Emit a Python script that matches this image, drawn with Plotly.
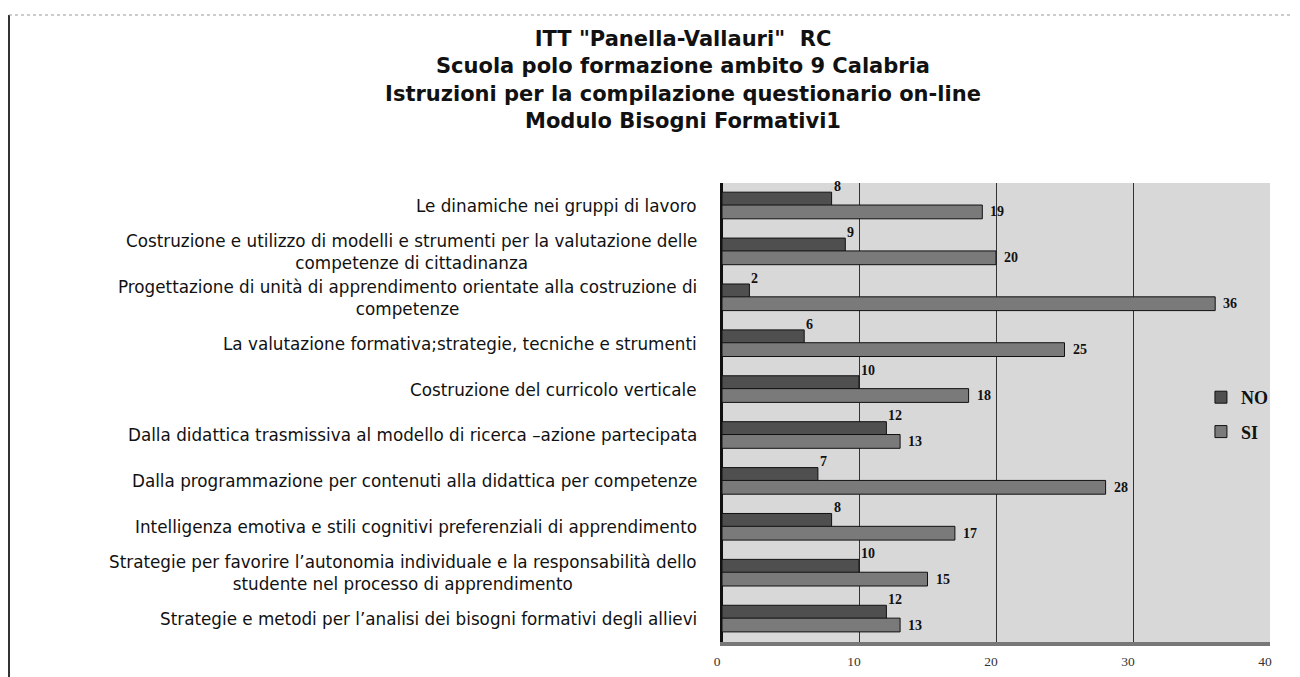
import plotly.graph_objects as go

# ---------------- data ----------------
categories = [
    "Le dinamiche nei gruppi di lavoro",
    "Costruzione e utilizzo di modelli e strumenti per la valutazione delle<br>competenze di cittadinanza",
    "Progettazione di unità di apprendimento orientate alla costruzione di<br>competenze",
    "La valutazione formativa;strategie, tecniche e strumenti",
    "Costruzione del curricolo verticale",
    "Dalla didattica trasmissiva al modello di ricerca –azione partecipata",
    "Dalla programmazione per contenuti alla didattica per competenze",
    "Intelligenza emotiva e stili cognitivi preferenziali di apprendimento",
    "Strategie per favorire l’autonomia individuale e la responsabilità dello<br>studente nel processo di apprendimento",
    "Strategie e metodi per l’analisi dei bisogni formativi degli allievi",
]
no_values = [8, 9, 2, 6, 10, 12, 7, 8, 10, 12]
si_values = [19, 20, 36, 25, 18, 13, 28, 17, 15, 13]
x_ticks = [0, 10, 20, 30, 40]
series_names = ["NO", "SI"]

title_lines = [
    "ITT \"Panella-Vallauri\"  RC",
    "Scuola polo formazione ambito 9 Calabria",
    "Istruzioni per la compilazione questionario on-line",
    "Modulo Bisogni Formativi1",
]

# ---------------- layout geometry (figure pixels) ----------------
W, H = 1292, 669
ML, MR, MT, MB = 714, 30, 175, 35
PW, PH = W - ML - MR, H - MT - MB

def px_to_paper_x(px):
    return (px - ML) / PW

def px_to_paper_y(py):
    return (H - MB - py) / PH

# ---------------- figure ----------------
fig = go.Figure()
fig.add_trace(go.Bar(
    y=categories, x=no_values, orientation="h", name=series_names[0],
    offset=-0.3, width=0.5, legendgroup="no",
    marker=dict(color="#4f4f4f", line=dict(color="#111111", width=1)),
))
fig.add_trace(go.Bar(
    y=categories, x=si_values, orientation="h", name=series_names[1],
    offset=-0.02, width=0.3, legendgroup="si",
    marker=dict(color="#7a7a7a", line=dict(color="#111111", width=1)),
))

annotations = []
label_font = dict(family="Liberation Serif", size=14, color="#111111", weight="bold")
for cat, v in zip(categories, no_values):
    annotations.append(dict(x=v, y=cat, xref="x", yref="y", text=str(v),
                            showarrow=False, xanchor="left", yanchor="bottom",
                            xshift=0, yshift=10, font=label_font))
for cat, v in zip(categories, si_values):
    annotations.append(dict(x=v, y=cat, xref="x", yref="y", text=str(v),
                            showarrow=False, xanchor="left", yanchor="middle",
                            xshift=6, yshift=-6, font=label_font))
for cat in categories:
    annotations.append(dict(x=0, y=cat, xref="x", yref="y", text=cat,
                            showarrow=False, xanchor="right", yanchor="middle",
                            xshift=-23, align="center",
                            font=dict(family="DejaVu Sans", size=16.8, color="#111111")))

fig.update_layout(
    width=W, height=H,
    margin=dict(l=ML, r=MR, t=MT, b=MB, autoexpand=False),
    barmode="overlay",
    paper_bgcolor="white",
    plot_bgcolor="#d8d8d8",
    title=dict(
        text="<br>".join(title_lines),
        x=675 / W, xref="container", xanchor="center",
        y=1 - 38 / H, yref="container", yanchor="top",
        font=dict(family="DejaVu Sans", size=21, color="#111111", weight="bold"),
    ),
    legend=dict(
        x=0.874, y=0.573, xanchor="left", yanchor="top",
        bgcolor="rgba(0,0,0,0)", traceorder="grouped", tracegroupgap=8,
        font=dict(family="Liberation Serif", size=18, color="#111111", weight="bold"),
    ),
    xaxis=dict(
        range=[0, 40], tickvals=x_ticks, ticktext=[str(t) for t in x_ticks],
        showgrid=True, gridcolor="#333333", gridwidth=1,
        zeroline=True, zerolinecolor="#111111", zerolinewidth=1.5,
        showline=True, linecolor="#777777", linewidth=4, mirror=False,
        tickfont=dict(family="Liberation Serif", size=13.5, color="#333333"),
        ticks="", ticklabelshift=-5, ticklabelstandoff=4, fixedrange=True,
        automargin=False,
    ),
    yaxis=dict(
        range=[9.5, -0.5], showticklabels=False, showgrid=False,
        showline=True, linecolor="#111111", linewidth=1.5,
        ticks="", fixedrange=True, automargin=False,
    ),
    annotations=annotations,
    shapes=[
        dict(type="line", xref="paper", yref="paper",
             x0=px_to_paper_x(1), x1=px_to_paper_x(1),
             y0=px_to_paper_y(H), y1=px_to_paper_y(7),
             line=dict(color="#333333", width=2)),
        dict(type="line", xref="paper", yref="paper",
             x0=px_to_paper_x(1), x1=px_to_paper_x(W),
             y0=px_to_paper_y(7), y1=px_to_paper_y(7),
             line=dict(color="#999999", width=1, dash="dot")),
    ],
)

fig.write_html("out.html")
